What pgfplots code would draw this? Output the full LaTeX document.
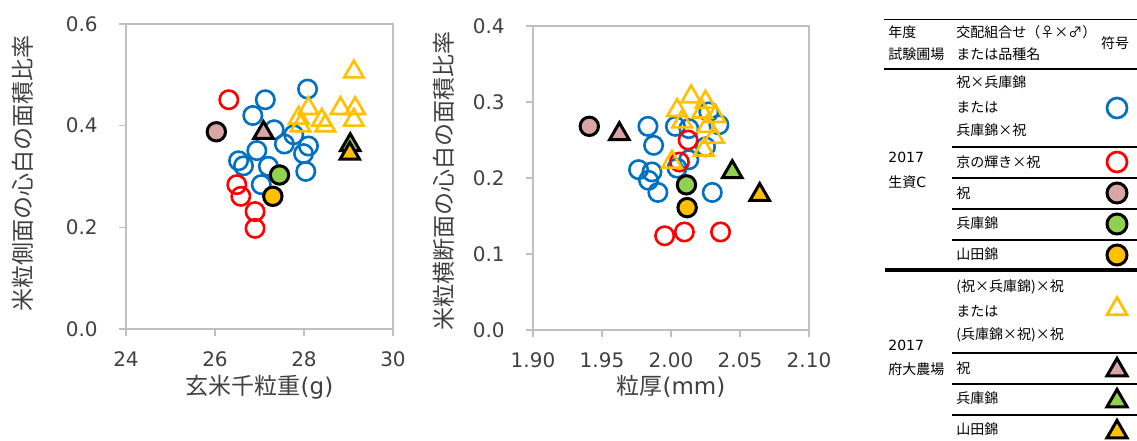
\documentclass[border=0pt]{standalone}
\usepackage{fontspec}
\setmainfont{DejaVu Sans}
\newfontfamily\jp{Noto Sans CJK JP}
\usepackage{pgfplots}
\pgfplotsset{compat=1.18}
\definecolor{cblue}{HTML}{0070C0}
\definecolor{cred}{HTML}{FF0000}
\definecolor{cpink}{HTML}{D9A5A5}
\definecolor{cgreen}{HTML}{92D050}
\definecolor{cyel}{HTML}{FFC000}
\definecolor{axgray}{HTML}{BFBFBF}
\definecolor{txt}{HTML}{404040}
\tikzset{lt/.style={font=\fontsize{7}{8.4}\selectfont, text=black, inner sep=0pt, anchor=west}}
\pgfplotsset{
  myax/.style={scale only axis, clip=false,
    axis line style={axgray, line width=0.7pt},
    tick style={axgray, line width=0.7pt},
    tick align=outside, major tick length=3.5pt,
    xtick pos=lower, ytick pos=left, scaled ticks=false,
    ticklabel style={font=\fontsize{10}{12}\selectfont, text=txt},
    /pgf/number format/assume math mode=true,
    label style={font=\fontsize{11.5}{13}\selectfont, text=txt},
    yticklabel style={anchor=east, inner sep=0pt, xshift=-10.5pt,
      /pgf/number format/fixed, /pgf/number format/fixed zerofill, /pgf/number format/precision=1},
    xticklabel style={anchor=north, inner sep=0pt, yshift=-7.5pt},
  },
  bo/.style={only marks, mark=o, draw=cblue, mark size=4.6pt, mark options={line width=1.3pt}},
  ro/.style={only marks, mark=o, draw=cred, mark size=4.6pt, mark options={line width=1.3pt}},
  yt/.style={only marks, mark=triangle, draw=cyel, mark size=5.6pt, mark options={line width=1.3pt}},
  fc/.style={only marks, mark=*, draw=black, fill=#1, mark size=4.6pt, mark options={line width=1.5pt}},
  ft/.style={only marks, mark=triangle*, draw=black, fill=#1, mark size=5.6pt, mark options={line width=1.5pt}},
}
\begin{document}
\begin{tikzpicture}
\useasboundingbox (0,0) rectangle (568.5pt,220pt);
% ---------- left chart ----------
\begin{axis}[myax, at={(63pt,55.5pt)}, anchor=south west,
  width=133.5pt, height=152.5pt,
  xmin=24, xmax=30, ymin=0, ymax=0.6,
  xtick={24,26,28,30}, ytick={0,0.2,0.4,0.6},
  xlabel={{\jp 玄米千粒重}(g)},
  ylabel={\jp 米粒側面の心白の面積比率},
  xlabel style={at={(axis description cs:0.5,-0.19)}, anchor=center},
  ylabel style={at={(axis description cs:-0.386,0.51)}, anchor=center},
]
\addplot[bo] coordinates {
 (28.08,0.472) (27.13,0.451) (26.85,0.420) (27.33,0.392) (27.77,0.382)
 (27.56,0.364) (28.10,0.360) (27.99,0.345) (26.94,0.351) (26.53,0.331)
 (26.64,0.321) (27.20,0.320) (28.04,0.310) (27.04,0.284)};
\addplot[ro] coordinates {
 (26.31,0.451) (26.49,0.284) (26.58,0.261) (26.90,0.231) (26.90,0.198)};
\addplot[yt] coordinates {
 (29.12,0.506) (28.10,0.434) (28.82,0.434) (29.15,0.434) (27.88,0.415)
 (28.40,0.411) (28.48,0.400) (27.92,0.400) (29.12,0.411)};
\addplot[fc=cpink] coordinates {(26.03,0.388)};
\addplot[fc=cgreen] coordinates {(27.45,0.303)};
\addplot[fc=cyel] coordinates {(27.30,0.261)};
\addplot[ft=cpink] coordinates {(27.09,0.386)};
\addplot[ft=cgreen] coordinates {(29.04,0.362)};
\addplot[ft=cyel] coordinates {(29.03,0.345)};
\end{axis}
% ---------- right chart ----------
\begin{axis}[myax, at={(266.5pt,55pt)}, anchor=south west,
  width=138pt, height=152pt,
  xmin=1.90, xmax=2.10, ymin=0, ymax=0.4,
  xtick={1.90,1.95,2.00,2.05,2.10}, ytick={0,0.1,0.2,0.3,0.4},
  xticklabel style={/pgf/number format/fixed, /pgf/number format/fixed zerofill, /pgf/number format/precision=2},
  xlabel={{\jp 粒厚}(mm)},
  ylabel={\jp 米粒横断面の心白の面積比率},
  xlabel style={at={(axis description cs:0.5,-0.187)}, anchor=center},
  ylabel style={at={(axis description cs:-0.322,0.49)}, anchor=center},
]
\addplot[bo] coordinates {
 (1.9833,0.268) (1.9874,0.243) (1.9765,0.211) (1.9862,0.208) (1.9837,0.197)
 (1.9905,0.181) (2.0299,0.181) (2.0032,0.268) (2.0129,0.265) (2.0274,0.287)
 (2.0347,0.270) (2.0250,0.241) (2.0129,0.224) (2.0044,0.213)};
\addplot[ro] coordinates {
 (1.9954,0.124) (2.0097,0.129) (2.0359,0.129) (2.0124,0.250) (2.0061,0.221)};
\addplot[yt] coordinates {
 (2.0146,0.307) (2.0250,0.300) (2.0044,0.289) (2.0323,0.281) (2.0080,0.274)
 (2.0262,0.268) (2.0311,0.254) (2.0238,0.237) (2.0007,0.221) (2.0226,0.287)};
\addplot[fc=cpink] coordinates {(1.9408,0.268)};
\addplot[fc=cgreen] coordinates {(2.0112,0.191)};
\addplot[fc=cyel] coordinates {(2.0117,0.161)};
\addplot[ft=cpink] coordinates {(1.9626,0.258)};
\addplot[ft=cgreen] coordinates {(2.0444,0.208)};
\addplot[ft=cyel] coordinates {(2.0643,0.178)};
\end{axis}
% ---------- legend table ----------
\begin{axis}[at={(0pt,0pt)}, anchor=south west, scale only axis,
  width=568.5pt, height=220pt, xmin=0, xmax=1137, ymin=0, ymax=440,
  y dir=reverse, hide axis, clip=false]
\draw[line width=0.65pt] (axis cs:884,19.5) -- (axis cs:1137,19.5);
\draw[line width=1.35pt] (axis cs:884,69) -- (axis cs:1137,69);
\draw[line width=1pt] (axis cs:952,147) -- (axis cs:1137,147);
\draw[line width=1pt] (axis cs:952,178) -- (axis cs:1137,178);
\draw[line width=1pt] (axis cs:952,209) -- (axis cs:1137,209);
\draw[line width=1pt] (axis cs:952,240) -- (axis cs:1137,240);
\draw[line width=1.65pt] (axis cs:885,270) -- (axis cs:1137,270);
\draw[line width=1pt] (axis cs:952,353) -- (axis cs:1137,353);
\draw[line width=1pt] (axis cs:952,384) -- (axis cs:1137,384);
\draw[line width=1pt] (axis cs:952,415) -- (axis cs:1137,415);
\node[lt] at (axis cs:888,32) {\jp 年度};
\node[lt] at (axis cs:888,54) {\jp 試験圃場};
\node[lt] at (axis cs:956,32) {\jp 交配組合せ（♀×♂）};
\node[lt] at (axis cs:956,54) {\jp または品種名};
\node[lt, anchor=center] at (axis cs:1115,43) {\jp 符号};
\node[lt] at (axis cs:956,82) {\jp 祝×兵庫錦};
\node[lt] at (axis cs:956,107) {\jp または};
\node[lt] at (axis cs:956,130) {\jp 兵庫錦×祝};
\node[lt] at (axis cs:956,162) {\jp 京の輝き×祝};
\node[lt] at (axis cs:956,193) {\jp 祝};
\node[lt] at (axis cs:956,223) {\jp 兵庫錦};
\node[lt] at (axis cs:956,254) {\jp 山田錦};
\node[lt] at (axis cs:956,287) {\jp (祝×兵庫錦)×祝};
\node[lt] at (axis cs:956,311) {\jp または};
\node[lt] at (axis cs:956,335) {\jp (兵庫錦×祝)×祝};
\node[lt] at (axis cs:956,368) {\jp 祝};
\node[lt] at (axis cs:956,398) {\jp 兵庫錦};
\node[lt] at (axis cs:956,429) {\jp 山田錦};
\node[lt] at (axis cs:888,157) {2017};
\node[lt] at (axis cs:888,182) {{\jp 生資}C};
\node[lt] at (axis cs:888,345) {2017};
\node[lt] at (axis cs:888,369) {\jp 府大農場};
\addplot[only marks, mark=o, draw=cblue, mark size=5pt, mark options={line width=1.35pt}] coordinates {(1117,108)};
\addplot[only marks, mark=o, draw=cred, mark size=5pt, mark options={line width=1.35pt}] coordinates {(1117,162)};
\addplot[only marks, mark=*, draw=black, fill=cpink, mark size=5pt, mark options={line width=1.5pt}] coordinates {(1117,193)};
\addplot[only marks, mark=*, draw=black, fill=cgreen, mark size=5pt, mark options={line width=1.5pt}] coordinates {(1117,224)};
\addplot[only marks, mark=*, draw=black, fill=cyel, mark size=5pt, mark options={line width=1.5pt}] coordinates {(1117,255)};
\addplot[only marks, mark=triangle, draw=cyel, mark size=5.8pt, mark options={line width=1.35pt}] coordinates {(1117,309)};
\addplot[only marks, mark=triangle*, draw=black, fill=cpink, mark size=5.8pt, mark options={line width=1.5pt}] coordinates {(1117,370)};
\addplot[only marks, mark=triangle*, draw=black, fill=cgreen, mark size=5.8pt, mark options={line width=1.5pt}] coordinates {(1117,401)};
\addplot[only marks, mark=triangle*, draw=black, fill=cyel, mark size=5.8pt, mark options={line width=1.5pt}] coordinates {(1117,432)};
\end{axis}
\end{tikzpicture}
\end{document}
